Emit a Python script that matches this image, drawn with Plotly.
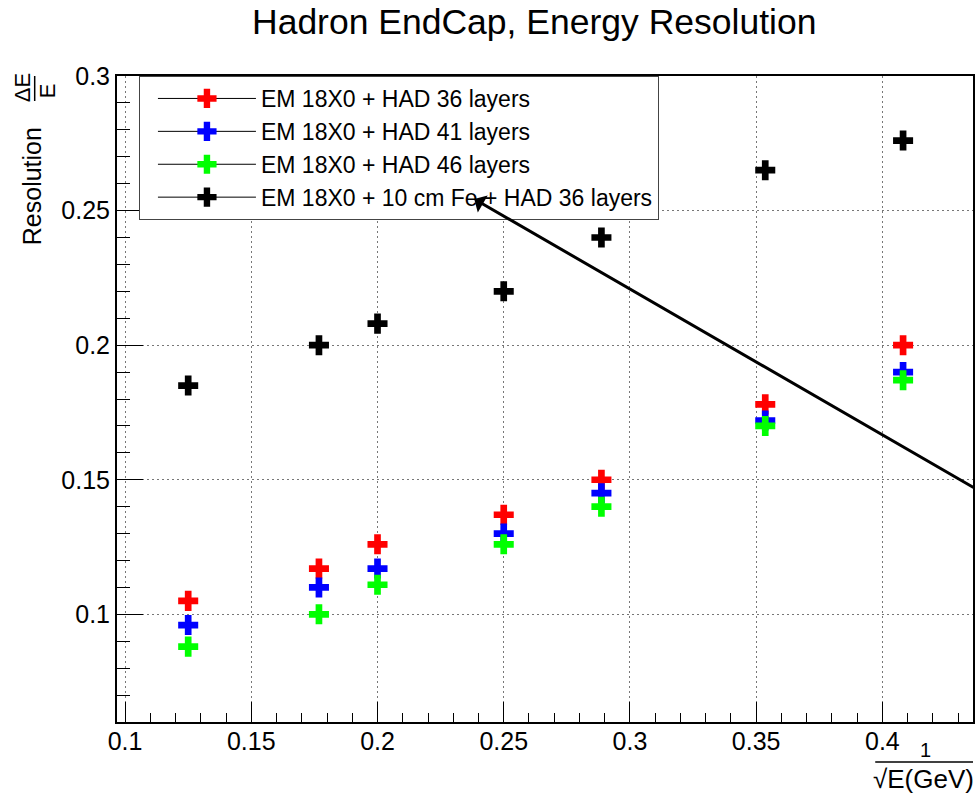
import plotly.graph_objects as go

# 1/sqrt(E) values
x_vals = [0.125, 0.1768, 0.2, 0.25, 0.2887, 0.3536, 0.4082]
res_had36 = [0.105, 0.117, 0.126, 0.137, 0.150, 0.178, 0.200]
res_had41 = [0.096, 0.110, 0.117, 0.130, 0.145, 0.172, 0.190]
res_had46 = [0.088, 0.100, 0.111, 0.126, 0.140, 0.170, 0.187]
res_fe_had36 = [0.185, 0.200, 0.208, 0.220, 0.240, 0.265, 0.276]

series_names = [
    "EM 18X0 + HAD 36 layers",
    "EM 18X0 + HAD 41 layers",
    "EM 18X0 + HAD 46 layers",
    "EM 18X0 + 10 cm Fe + HAD 36 layers",
]
series_values = [res_had36, res_had41, res_had46, res_fe_had36]
series_colors = ["#ff0000", "#0000ff", "#00ff00", "#000000"]

x_ticks = [0.1, 0.15, 0.2, 0.25, 0.3, 0.35, 0.4]
y_ticks = [0.1, 0.15, 0.2, 0.25, 0.3]

FONT = "Liberation Sans, Arial, Helvetica, sans-serif"
MSIZE = 16.7

fig = go.Figure()

for name, vals, col in zip(series_names, series_values, series_colors):
    fig.add_trace(go.Scatter(
        x=x_vals, y=vals, mode="markers", name=name, showlegend=False,
        marker=dict(symbol="cross", size=MSIZE, color=col, line=dict(width=0)),
    ))

# legend-only entries (ROOT-style "lep": black line + coloured marker)
for name, col in zip(series_names, series_colors):
    fig.add_trace(go.Scatter(
        x=[None], y=[None], mode="lines+markers", name=name, showlegend=True,
        line=dict(color="black", width=1),
        marker=dict(symbol="cross", size=MSIZE, color=col, line=dict(width=0)),
    ))

W, H = 977, 796
L, R, T, B = 117, 2, 76, 74
pw, ph = W - L - R, H - T - B


def px(xp):
    return (xp - L) / pw


def py(yp):
    return (H - B - yp) / ph


fig.update_layout(
    width=W, height=H,
    margin=dict(l=L, r=R, t=T, b=B),
    paper_bgcolor="white", plot_bgcolor="white",
    font=dict(family=FONT, color="black"),
    showlegend=True,
    legend=dict(
        x=px(139), y=1.0, xanchor="left", yanchor="top",
        bgcolor="white", bordercolor="#444", borderwidth=1,
        font=dict(size=23, family=FONT, color="black"),
        itemwidth=98, indentation=13, tracegroupgap=0,
    ),
    xaxis=dict(
        range=[0.0968, 0.4359],
        tickvals=x_ticks, ticktext=[str(v) for v in x_ticks],
        ticks="inside", ticklen=20, tickwidth=1.2, tickcolor="black",
        tickfont=dict(size=25, family=FONT, color="black"),
        ticklabelstandoff=-4,
        showline=True, linecolor="black", linewidth=2, mirror=True,
        showgrid=True, gridcolor="#777", gridwidth=1, griddash="2px,3px",
        zeroline=False,
        minor=dict(ticks="inside", ticklen=9, dtick=0.01, tick0=0.1,
                   tickcolor="black", tickwidth=1.2, showgrid=False),
    ),
    yaxis=dict(
        range=[0.06, 0.3],
        tickvals=y_ticks, ticktext=[str(v) for v in y_ticks],
        ticks="inside", ticklen=26, tickwidth=1.2, tickcolor="black",
        tickfont=dict(size=25, family=FONT, color="black"),
        showline=True, linecolor="black", linewidth=2, mirror=True,
        showgrid=True, gridcolor="#777", gridwidth=1, griddash="2px,3px",
        zeroline=False,
        minor=dict(ticks="inside", ticklen=13, dtick=0.01, tick0=0.1,
                   tickcolor="black", tickwidth=1.2, showgrid=False),
    ),
)

ann = []
# title
ann.append(dict(text="Hadron EndCap, Energy Resolution", xref="paper", yref="paper",
                x=px(535), y=py(22), xanchor="center", yanchor="middle",
                showarrow=False, font=dict(size=35.5, family=FONT, color="black")))
# y-axis title
ann.append(dict(text="Resolution", xref="paper", yref="paper",
                x=px(32), y=py(186), xanchor="center", yanchor="middle",
                textangle=-90, showarrow=False,
                font=dict(size=25, family=FONT, color="black")))
ann.append(dict(text="ΔE", xref="paper", yref="paper",
                x=px(22), y=py(88), xanchor="center", yanchor="middle",
                textangle=-90, showarrow=False,
                font=dict(size=22, family=FONT, color="black")))
ann.append(dict(text="E", xref="paper", yref="paper",
                x=px(47), y=py(91), xanchor="center", yanchor="middle",
                textangle=-90, showarrow=False,
                font=dict(size=22, family=FONT, color="black")))
# x-axis title
ann.append(dict(text="1", xref="paper", yref="paper",
                x=px(927), y=py(750), xanchor="center", yanchor="middle",
                showarrow=False, font=dict(size=20, family=FONT, color="black")))
ann.append(dict(text="√E(GeV)", xref="paper", yref="paper",
                x=px(925), y=py(779), xanchor="center", yanchor="middle",
                showarrow=False, font=dict(size=26, family=FONT, color="black")))
# arrow
ann.append(dict(text="", x=0.2383, y=0.2543, xref="x", yref="y",
                ax=0.4367, ay=0.1468, axref="x", ayref="y",
                showarrow=True, arrowhead=1, arrowsize=1.1, arrowwidth=3,
                arrowcolor="black", standoff=0))
fig.update_layout(annotations=ann)

shapes = [
    dict(type="line", xref="paper", yref="paper", x0=px(34.5), x1=px(34.5),
         y0=py(76), y1=py(101), line=dict(color="black", width=1.5)),
    dict(type="line", xref="paper", yref="paper", x0=px(877), x1=px(975),
         y0=py(762), y1=py(762), line=dict(color="black", width=1.5)),
]
fig.update_layout(shapes=shapes)

fig.write_html("out.html")
